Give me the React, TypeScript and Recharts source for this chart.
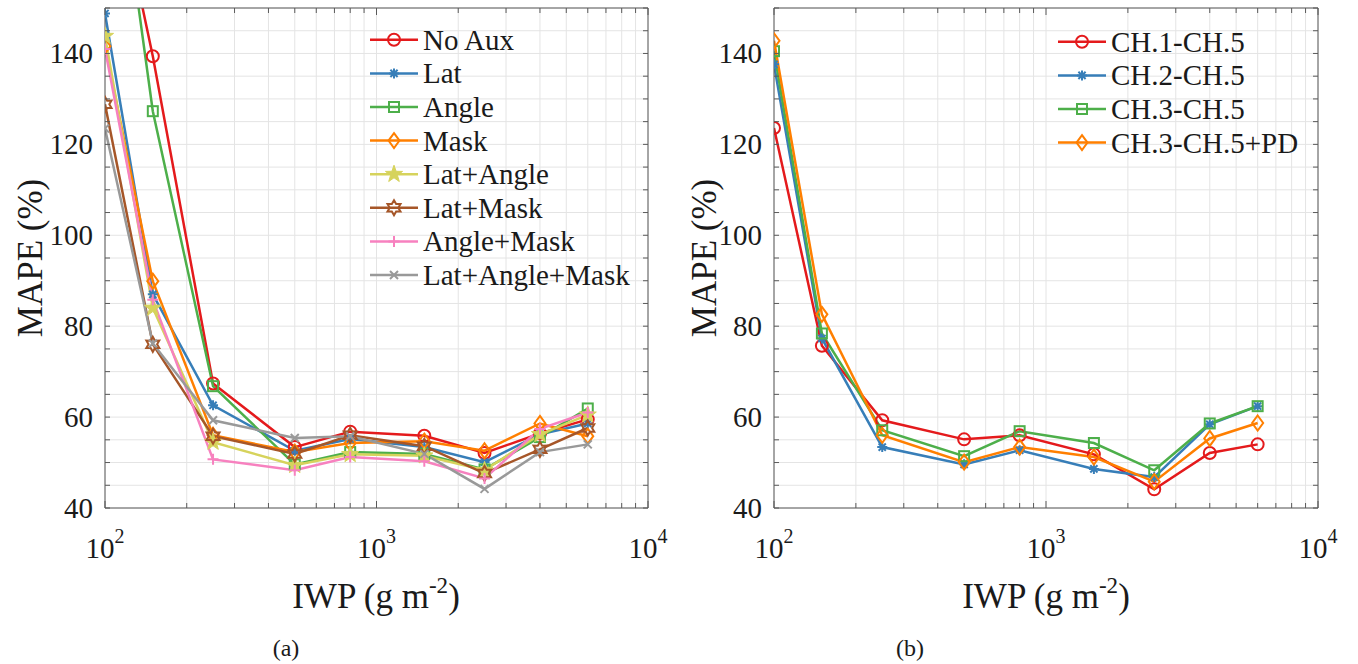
import React from 'react';
import { LineChart, Line, XAxis, YAxis, CartesianGrid, Legend } from 'recharts';

// ---------- data ----------
const iwp = [100, 150, 250, 500, 800, 1500, 2500, 4000, 6000];

// panel (a)
const noAux = [189, 139.4, 67.4, 53.4, 56.8, 55.9, 52.1, 56.4, 59.5];
const lat = [148.8, 87.0, 62.6, 52.6, 55.2, 53.4, 50.1, 56.2, 58.6];
const angle = [204, 127.3, 66.8, 49.6, 52.3, 51.9, 48.5, 55.6, 61.9];
const mask = [141.6, 89.9, 56.0, 52.3, 54.3, 54.7, 52.6, 58.6, 55.8];
const latAngle = [143.8, 84.0, 54.5, 49.4, 51.8, 51.5, 48.3, 56.2, 60.5];
const latMask = [128.8, 76.0, 55.8, 51.9, 56.0, 53.6, 47.6, 52.9, 57.6];
const angleMask = [141.0, 85.8, 50.7, 48.3, 51.2, 50.3, 46.5, 57.4, 61.0];
const latAngleMask = [123.5, 76.2, 59.3, 55.4, 55.8, 51.9, 44.2, 52.3, 54.0];

// panel (b)
const ch1to5 = [123.6, 75.7, 59.3, 55.1, 56.0, 51.8, 44.1, 52.1, 54.0];
const ch2to5 = [137.6, 77.3, 53.4, 49.6, 52.7, 48.6, 46.8, 58.4, 62.4];
const ch3to5 = [140.5, 78.4, 57.1, 51.4, 56.9, 54.3, 48.3, 58.6, 62.4];
const ch3to5pd = [142.8, 82.6, 56.0, 50.1, 53.4, 51.2, 45.8, 55.3, 58.7];

const xTicks = [100, 200, 300, 400, 500, 600, 700, 800, 900, 1000, 2000, 3000, 4000, 5000, 6000, 7000, 8000, 9000, 10000];
const xLabelTicks = [100, 1000, 10000];
const yTicks = [40, 45, 50, 55, 60, 65, 70, 75, 80, 85, 90, 95, 100, 105, 110, 115, 120, 125, 130, 135, 140, 145, 150];
const yLabelTicks = [40, 60, 80, 100, 120, 140];
const xDomain = [100, 10000];
const yDomain = [40, 150];

type Series = { key: string; name: string; color: string; marker: string; values: number[] };

const leftSeries: Series[] = [
  { key: 'noAux', name: 'No Aux', color: '#E41A1C', marker: 'circle', values: noAux },
  { key: 'lat', name: 'Lat', color: '#377EB8', marker: 'asterisk', values: lat },
  { key: 'angle', name: 'Angle', color: '#4DAF4A', marker: 'square', values: angle },
  { key: 'mask', name: 'Mask', color: '#FF7F00', marker: 'diamond', values: mask },
  { key: 'latAngle', name: 'Lat+Angle', color: '#D6D35C', marker: 'pentagram', values: latAngle },
  { key: 'latMask', name: 'Lat+Mask', color: '#A65628', marker: 'hexagram', values: latMask },
  { key: 'angleMask', name: 'Angle+Mask', color: '#F781BF', marker: 'plus', values: angleMask },
  { key: 'latAngleMask', name: 'Lat+Angle+Mask', color: '#999999', marker: 'x', values: latAngleMask },
];

const rightSeries: Series[] = [
  { key: 'ch1', name: 'CH.1-CH.5', color: '#E41A1C', marker: 'circle', values: ch1to5 },
  { key: 'ch2', name: 'CH.2-CH.5', color: '#377EB8', marker: 'asterisk', values: ch2to5 },
  { key: 'ch3', name: 'CH.3-CH.5', color: '#4DAF4A', marker: 'square', values: ch3to5 },
  { key: 'ch3pd', name: 'CH.3-CH.5+PD', color: '#FF7F00', marker: 'diamond', values: ch3to5pd },
];

const buildRows = (series: Series[]) =>
  iwp.map((x, i) => {
    const row: Record<string, number> = { iwp: x };
    series.forEach((s) => (row[s.key] = s.values[i]));
    return row;
  });

const leftRows = buildRows(leftSeries);
const rightRows = buildRows(rightSeries);

// ---------- styles ----------
const FONT = '"Liberation Serif", "Times New Roman", serif';
const TEXT = '#1a1a1a';
const AXIS = '#5a5a5a';
const GRID = '#e4e4e4';
const LW = 2.5;

function starPoints(cx: number, cy: number, n: number, ro: number, ri: number) {
  const pts: string[] = [];
  for (let i = 0; i < n * 2; i++) {
    const r = i % 2 === 0 ? ro : ri;
    const a = -Math.PI / 2 + (i * Math.PI) / n;
    pts.push(`${cx + r * Math.cos(a)},${cy + r * Math.sin(a)}`);
  }
  return pts.join(' ');
}

function Marker({ shape, cx, cy, color }: { shape: string; cx: number; cy: number; color: string }) {
  const sw = 2;
  const common = { fill: 'none', stroke: color, strokeWidth: sw };
  switch (shape) {
    case 'circle':
      return <circle cx={cx} cy={cy} r={6} {...common} />;
    case 'square':
      return <rect x={cx - 5} y={cy - 5} width={10} height={10} {...common} />;
    case 'diamond':
      return <polygon points={`${cx},${cy - 7.5} ${cx + 5.5},${cy} ${cx},${cy + 7.5} ${cx - 5.5},${cy}`} {...common} />;
    case 'asterisk':
      return (
        <path
          d={`M${cx - 5},${cy}L${cx + 5},${cy}M${cx},${cy - 5}L${cx},${cy + 5}M${cx - 3.6},${cy - 3.6}L${cx + 3.6},${cy + 3.6}M${cx - 3.6},${cy + 3.6}L${cx + 3.6},${cy - 3.6}`}
          {...common}
        />
      );
    case 'plus':
      return <path d={`M${cx - 5.5},${cy}L${cx + 5.5},${cy}M${cx},${cy - 5.5}L${cx},${cy + 5.5}`} {...common} />;
    case 'x':
      return <path d={`M${cx - 4},${cy - 4}L${cx + 4},${cy + 4}M${cx - 4},${cy + 4}L${cx + 4},${cy - 4}`} {...common} />;
    case 'pentagram':
      return <polygon points={starPoints(cx, cy, 5, 9, 3.6)} fill={color} stroke={color} strokeWidth={1} />;
    case 'hexagram':
      return <polygon points={starPoints(cx, cy, 6, 7.5, 4.3)} {...common} />;
    default:
      return null;
  }
}

// ---------- ticks ----------
const BottomTick = (props: any) => {
  const { x, y, payload } = props;
  const v = payload.value;
  const major = xLabelTicks.includes(v);
  const exp = Math.round(Math.log10(v));
  return (
    <g>
      <line x1={x} y1={y} x2={x} y2={y - (major ? 7 : 5)} stroke={AXIS} strokeWidth={1} />
      {major && (
        <text x={x} y={y + 50} textAnchor="middle" fontFamily={FONT} fontSize={29} fill={TEXT}>
          10
          <tspan dy={-15} fontSize={20}>
            {exp}
          </tspan>
        </text>
      )}
    </g>
  );
};

const TopTick = (props: any) => {
  const { x, y, payload } = props;
  const major = xLabelTicks.includes(payload.value);
  return <line x1={x} y1={y} x2={x} y2={y + (major ? 7 : 5)} stroke={AXIS} strokeWidth={1} />;
};

const LeftTick = (props: any) => {
  const { x, y, payload } = props;
  const v = payload.value;
  const lab = yLabelTicks.includes(v);
  return (
    <g>
      <line x1={x} y1={y} x2={x + 5} y2={y} stroke={AXIS} strokeWidth={1} />
      {lab && (
        <text x={x - 12} y={y + 10} textAnchor="end" fontFamily={FONT} fontSize={29} fill={TEXT}>
          {v}
        </text>
      )}
    </g>
  );
};

const RightTick = (props: any) => {
  const { x, y } = props;
  return <line x1={x} y1={y} x2={x - 5} y2={y} stroke={AXIS} strokeWidth={1} />;
};

// ---------- legend ----------
const makeLegend = (series: Series[], rowH: number, textW: number) => (props: any) => {
  const payload: any[] = props.payload || [];
  const ordered = series.filter((s) => payload.some((p: any) => p.dataKey === s.key));
  const items = ordered.length ? ordered : series;
  const h = items.length * rowH;
  return (
    <svg width={textW} height={h} style={{ display: 'block', overflow: 'visible' }}>
      {items.map((s, i) => {
        const cy = rowH / 2 + i * rowH;
        return (
          <g key={s.key}>
            <line x1={0} y1={cy} x2={48} y2={cy} stroke={s.color} strokeWidth={LW} />
            <Marker shape={s.marker} cx={24} cy={cy} color={s.color} />
            <text x={53} y={cy + 10} fontFamily={FONT} fontSize={29} fill={TEXT}>
              {s.name}
            </text>
          </g>
        );
      })}
    </svg>
  );
};

// ---------- panel ----------
function Panel({
  rows,
  series,
  width,
  margin,
  legendPos,
}: {
  rows: any[];
  series: Series[];
  width: number;
  margin: { top: number; right: number; bottom: number; left: number };
  legendPos: { left: number; top: number; width: number };
}) {
  return (
    <LineChart width={width} height={664} data={rows} margin={margin}>
      <CartesianGrid stroke={GRID} strokeWidth={1} />
      <XAxis
        dataKey="iwp"
        type="number"
        scale="log"
        domain={xDomain}
        allowDataOverflow
        ticks={xTicks}
        interval={0}
        height={40}
        tickSize={0}
        tickMargin={0}
        tickLine={false}
        axisLine={{ stroke: AXIS, strokeWidth: 1 }}
        tick={BottomTick}
      />
      <XAxis
        xAxisId="top"
        orientation="top"
        dataKey="iwp"
        type="number"
        scale="log"
        domain={xDomain}
        allowDataOverflow
        ticks={xTicks}
        interval={0}
        height={1}
        tickSize={0}
        tickMargin={0}
        tickLine={false}
        axisLine={{ stroke: AXIS, strokeWidth: 1 }}
        tick={TopTick}
      />
      <YAxis
        type="number"
        domain={yDomain}
        allowDataOverflow
        ticks={yTicks}
        interval={0}
        width={60}
        tickSize={0}
        tickMargin={0}
        tickLine={false}
        axisLine={{ stroke: AXIS, strokeWidth: 1 }}
        tick={LeftTick}
      />
      <YAxis
        yAxisId="right"
        orientation="right"
        type="number"
        domain={yDomain}
        allowDataOverflow
        ticks={yTicks}
        interval={0}
        width={1}
        tickSize={0}
        tickMargin={0}
        tickLine={false}
        axisLine={{ stroke: AXIS, strokeWidth: 1 }}
        tick={RightTick}
      />
      <Legend
        layout="vertical"
        align="center"
        verticalAlign="middle"
        itemSorter={null as any}
        wrapperStyle={{ left: legendPos.left, top: legendPos.top, width: legendPos.width }}
        content={makeLegend(series, 33.6, legendPos.width)}
      />
      {series.map((s) => (
        <Line
          key={s.key}
          dataKey={s.key}
          name={s.name}
          type="linear"
          stroke={s.color}
          strokeWidth={LW}
          isAnimationActive={false}
          dot={(p: any) =>
            p.cx == null || p.cy == null ? (
              <g key={`${s.key}-${p.index}`} />
            ) : (
              <Marker key={`${s.key}-${p.index}`} shape={s.marker} cx={p.cx} cy={p.cy} color={s.color} />
            )
          }
          activeDot={false}
        />
      ))}
    </LineChart>
  );
}

export default function App() {
  return (
    <div style={{ position: 'absolute', left: 0, top: 0, width: 1358, height: 664, background: '#fff', overflow: 'hidden' }}>
      <div style={{ position: 'absolute', left: 0, top: 0 }}>
        <Panel
          rows={leftRows}
          series={leftSeries}
          width={680}
          margin={{ top: 7, right: 31, bottom: 116, left: 45 }}
          legendPos={{ left: 370, top: 23, width: 290 }}
        />
      </div>
      <div style={{ position: 'absolute', left: 680, top: 0 }}>
        <Panel
          rows={rightRows}
          series={rightSeries}
          width={678}
          margin={{ top: 7, right: 39, bottom: 116, left: 34 }}
          legendPos={{ left: 378, top: 25, width: 270 }}
        />
      </div>
      <svg width={1358} height={664} style={{ position: 'absolute', left: 0, top: 0, pointerEvents: 'none' }}>
        <text transform="translate(42,258) rotate(-90)" textAnchor="middle" fontFamily={FONT} fontSize={35} fill={TEXT}>
          MAPE (%)
        </text>
        <text transform="translate(716,258) rotate(-90)" textAnchor="middle" fontFamily={FONT} fontSize={35} fill={TEXT}>
          MAPE (%)
        </text>
        <text x={376} y={608} textAnchor="middle" fontFamily={FONT} fontSize={35} fill={TEXT}>
          IWP (g m<tspan dy={-15} fontSize={23}>-2</tspan>
          <tspan dy={15}>)</tspan>
        </text>
        <text x={1046} y={608} textAnchor="middle" fontFamily={FONT} fontSize={35} fill={TEXT}>
          IWP (g m<tspan dy={-15} fontSize={23}>-2</tspan>
          <tspan dy={15}>)</tspan>
        </text>
        <text x={286} y={656} textAnchor="middle" fontFamily={FONT} fontSize={24} fill={TEXT}>
          (a)
        </text>
        <text x={910} y={656} textAnchor="middle" fontFamily={FONT} fontSize={24} fill={TEXT}>
          (b)
        </text>
      </svg>
    </div>
  );
}
